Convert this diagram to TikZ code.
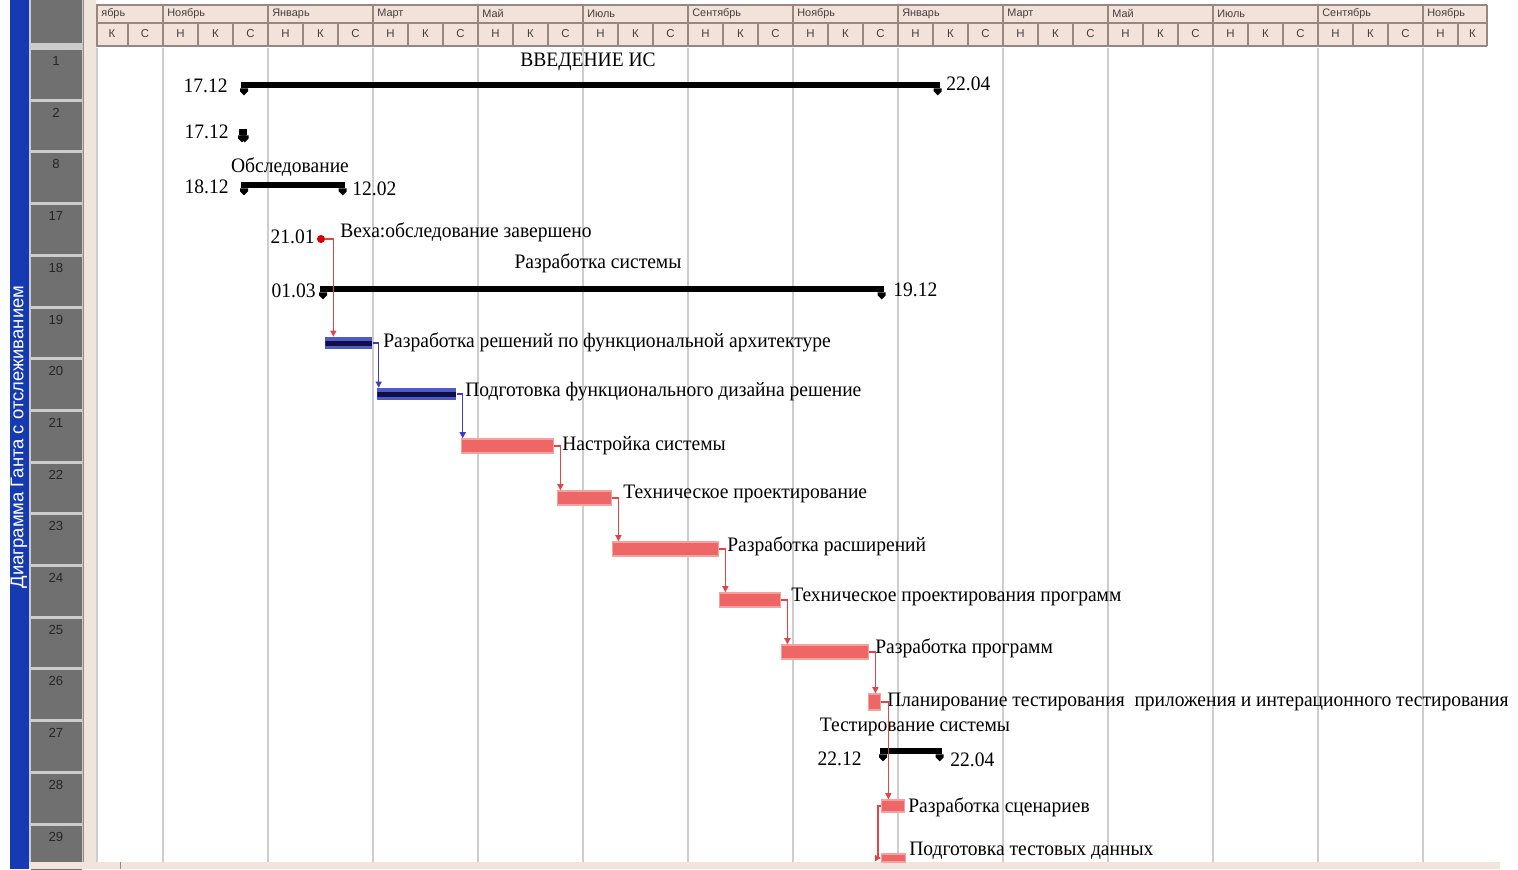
\documentclass[tikz,border=0pt]{standalone}
\usepackage{fontspec}
\setmainfont{Liberation Serif}[FakeStretch=0.95]
\setsansfont{Liberation Sans}
\usetikzlibrary{arrows.meta,calc}

\definecolor{barred}{RGB}{238,102,102}
\definecolor{barpink}{RGB}{246,160,160}
\definecolor{barblue}{RGB}{80,90,200}
\definecolor{barnavy}{RGB}{15,15,70}
\definecolor{linkred}{RGB}{225,70,70}
\definecolor{linkblue}{RGB}{60,60,200}
\definecolor{gridgrey}{RGB}{205,205,205}
\definecolor{headpink}{RGB}{243,226,218}
\definecolor{headline}{RGB}{150,135,128}
\definecolor{rowgrey}{RGB}{112,112,112}
\definecolor{viewblue}{RGB}{22,58,178}
\definecolor{stripbeige}{RGB}{240,228,220}

\newcommand{\sumtabs}[1]{%
  \fill ($(#1.south west)+(-1,0)$) -- ++(8,0) -- ++(0,3) -- ++(-4,4) -- ++(-4,-4) -- cycle;
  \fill ($(#1.south east)+(1,0)$) -- ++(-8,0) -- ++(0,3) -- ++(4,4) -- ++(4,-4) -- cycle;}

\begin{document}
\begin{tikzpicture}[x=0.02cm, y=-0.02cm,
    lbl/.style={anchor=west, inner sep=0, font=\fontsize{11.7}{14}\selectfont},
    date/.style={inner sep=0, font=\fontsize{11.7}{14}\selectfont},
    mon/.style={anchor=west, inner sep=0, text=black!75, font=\sffamily\fontsize{6.2}{7}\selectfont},
    subh/.style={inner sep=0, text=black!75, font=\sffamily\fontsize{6.5}{7}\selectfont},
    rownum/.style={inner sep=0, text=black!85, font=\sffamily\fontsize{7.5}{8}\selectfont},
    hline/.style={draw=headline, line width=0.6pt},
    grid/.style={draw=gridgrey, line width=0.8pt},
    sbar/.style={rectangle, anchor=west, inner sep=0, fill=black, minimum height=6*0.02cm, minimum width=#1*0.02cm},
    rbar/.style={rectangle, anchor=west, inner sep=0, fill=barred, draw=barpink, line width=0.8pt, minimum height=14*0.02cm, minimum width=#1*0.02cm},
    bbar/.style={rectangle, anchor=west, inner sep=0, fill=barblue, minimum height=12*0.02cm, minimum width=#1*0.02cm,
      path picture={\fill[barnavy] ($(path picture bounding box.west)+(0,-2.5)$) rectangle ($(path picture bounding box.east)+(0,2.5)$);}},
    rlink/.style={draw=linkred, line width=0.7pt, -{Triangle[length=3.5pt,width=3.5pt]}},
    blink/.style={rlink, draw=linkblue}]

\useasboundingbox (0,0) rectangle (1518,869);

\fill[viewblue] (10,0) rectangle (29,869);
\node[rotate=90, text=white, inner sep=0, font=\sffamily\fontsize{10.5}{11}\selectfont] (view) at (19,437) {Диаграмма Ганта с отслеживанием};

\fill[black!20] (29,0) rectangle (84,862);
\fill[rowgrey] (31,0) rectangle (82,43);
\fill[stripbeige] (84,0) rectangle (96,869);
\draw[headline] (83,0) -- (83,862);
\foreach \n [count=\i from 0] in {1,2,8,17,18,19,20,21,22,23,24,25,26,27,28,29}{
  \fill[rowgrey] (31,{48+51.7*\i+2}) rectangle (82,{48+51.7*(\i+1)-1});
  \node[rownum] (r\n) at (56,{48+51.7*\i+13}) {\n};
}

\fill[headpink] (96,5) rectangle (1487,47);
\draw[hline] (96,5) -- (1487,5);
\draw[hline] (96,23) -- (1487,23);
\draw[headline, line width=1.5pt] (96,46) -- (1487,46);
\draw[hline] (97,5) -- (97,46);
\draw[hline] (128,23) -- (128,46);
\node[mon] (mon0) at (101,14) {ябрь};
\node[subh] (subk0) at (112,34) {К};
\node[subh] (subc0) at (145,34) {С};
\foreach \m [count=\k from 0] in {Ноябрь,Январь,Март,Май,Июль,Сентябрь,Ноябрь,Январь,Март,Май,Июль,Сентябрь}{
  \pgfmathsetmacro\xa{163+105*\k}
  \draw[hline] (\xa,5) -- (\xa,46);
  \draw[hline] ({\xa+35},23) -- ({\xa+35},46);
  \draw[hline] ({\xa+70},23) -- ({\xa+70},46);
  \node[mon] (month\k) at ({\xa+4},14) {\m};
  \node[subh] (n\k) at ({\xa+17.5},34) {Н};
  \node[subh] (k\k) at ({\xa+52.5},34) {К};
  \node[subh] (c\k) at ({\xa+87.5},34) {С};
}
\draw[hline] (1423,5) -- (1423,46);
\draw[hline] (1458,23) -- (1458,46);
\draw[hline] (1487,5) -- (1487,46);
\node[mon] (month12) at (1427,14) {Ноябрь};
\node[subh] (n12) at (1440.5,34) {Н};
\node[subh] (k12) at (1472.5,34) {К};

\foreach \xa in {97,163,268,373,478,583,688,793,898,1003,1108,1213,1318,1423}
  \draw[grid] (\xa,48) -- (\xa,862);

\fill[stripbeige] (29,862) rectangle (1500,869);
\draw[headline] (120,862) -- (120,869);

\node[date] (t1) at (588,62) {ВВЕДЕНИЕ ИС};
\node[sbar=699] (s1) at (241,85) {};
\sumtabs{s1}
\node[date, anchor=east] (d1a) at (228,86) {17.12};
\node[date, anchor=west] (d1b) at (946,84) {22.04};

\node[sbar=8] (s2) at (239,132) {};
\sumtabs{s2}
\node[date, anchor=east] (d2a) at (229,132) {17.12};

\node[date] (t8) at (290,167) {Обследование};
\node[sbar=104] (s8) at (241,185) {};
\sumtabs{s8}
\node[date, anchor=east] (d8a) at (229,187) {18.12};
\node[date, anchor=west] (d8b) at (352,189) {12.02};

\node[circle, fill=red!85!black, inner sep=0, minimum size=8*0.02cm] (m17) at (321,239) {};
\node[date, anchor=east] (d17) at (315,237) {21.01};
\node[lbl] (l17) at (340,232) {Веха:обследование завершено};

\node[date] (t18) at (598,263) {Разработка системы};
\node[sbar=564] (s18) at (320,289) {};
\sumtabs{s18}
\node[date, anchor=east] (d18a) at (316,291) {01.03};
\node[date, anchor=west] (d18b) at (893,290) {19.12};

\node[bbar=47] (b19) at (325,343) {};
\node[lbl] (l19) at (383,342) {Разработка решений по функциональной архитектуре};
\node[bbar=79] (b20) at (377,394) {};
\node[lbl] (l20) at (465,392) {Подготовка функционального дизайна решение};
\node[rbar=92] (b21) at (461,446) {};
\node[lbl] (l21) at (562,446) {Настройка системы};
\node[rbar=54] (b22) at (557,498) {};
\node[lbl] (l22) at (623,494) {Техническое проектирование};
\node[rbar=106] (b23) at (612,549) {};
\node[lbl] (l23) at (727,546) {Разработка расширений};
\node[rbar=61] (b24) at (719,600) {};
\node[lbl] (l24) at (791,597) {Техническое проектирования программ};
\node[rbar=87] (b25) at (781,652) {};
\node[lbl] (l25) at (875,648) {Разработка программ};
\node[rbar=12, minimum height=16*0.02cm] (b26) at (868,702) {};
\node[lbl] (l26) at (887,702) {Планирование тестирования\ \ приложения и интерационного тестирования};

\node[date] (t27) at (915,727) {Тестирование системы};
\node[sbar=62] (s27) at (880,751) {};
\sumtabs{s27}
\node[date, anchor=east] (d27a) at (862,759) {22.12};
\node[date, anchor=west] (d27b) at (950,760) {22.04};

\node[rbar=23, minimum height=12*0.02cm] (b28) at (881,806) {};
\node[lbl] (l28) at (908,807) {Разработка сценариев};
\node[rbar=24, minimum height=8*0.02cm] (b29) at (881,858) {};
\node[lbl] (l29) at (909,851) {Подготовка тестовых данных};

\foreach \a/\b/\d/\s in {m17/b19/8/rlink, b19/b20/6/blink, b20/b21/6/blink, b21/b22/6/rlink, b22/b23/6/rlink,
    b23/b24/6/rlink, b24/b25/6/rlink, b25/b26/6/rlink, b26/b28/7/rlink}
  \draw[\s] (\a.east) -- ++(\d,0) coordinate (t) -- (t |- \b.north);
\draw[rlink] (b28.west) -- ++(-3,0) |- (b29.west);

\end{tikzpicture}
\end{document}
